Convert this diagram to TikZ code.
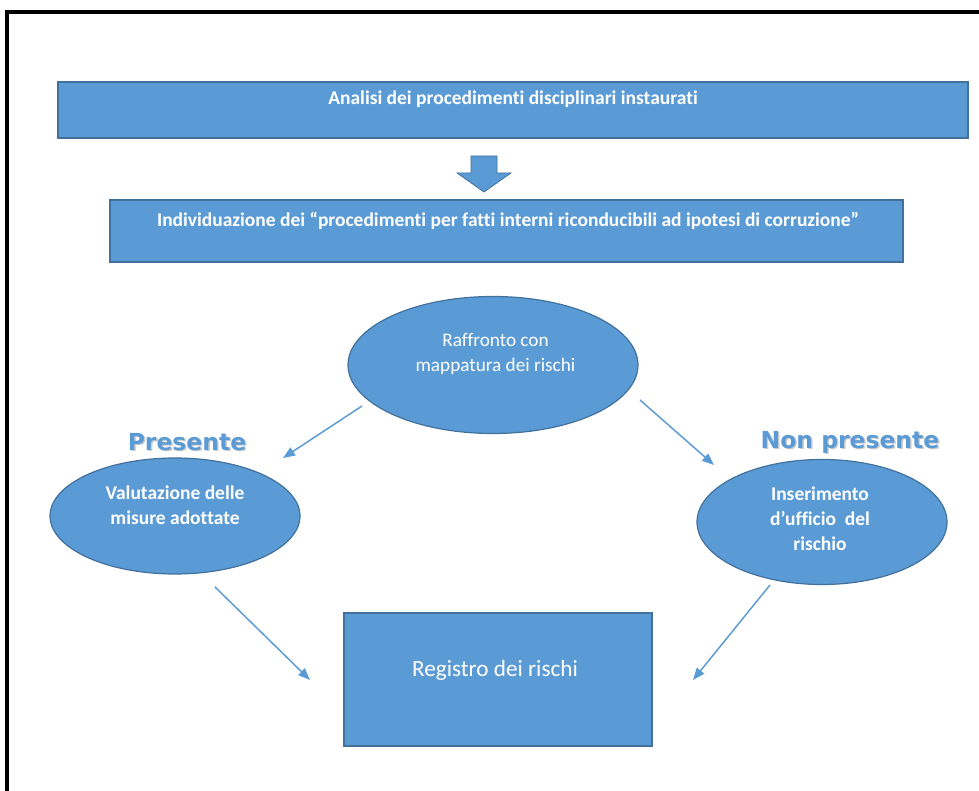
\documentclass[tikz,border=0pt]{standalone}
\usepackage{fontspec}
\setmainfont{Carlito}[Ligatures=NoCommon]
\newfontfamily\lblfont{DejaVu Sans}
\usetikzlibrary{shapes.geometric,arrows.meta}
\definecolor{fillblue}{HTML}{5B9BD5}
\definecolor{edgeblue}{HTML}{41719C}
\begin{document}
\begin{tikzpicture}[x=0.75pt,y=-0.75pt,
  blk/.style={draw=edgeblue, line width=0.9pt, fill=fillblue, inner sep=0pt},
  rbox/.style={blk, rectangle},
  ell/.style={blk, ellipse},
  wtxt/.style={text=white, inner sep=0pt, align=center},
  btxt/.style={wtxt, font=\fontsize{14.6}{17}\selectfont\bfseries},
  etxt/.style={wtxt, font=\fontsize{14.6}{18.6}\selectfont\bfseries},
  lbl/.style={text=fillblue, inner sep=0pt, font=\lblfont\fontsize{17.6}{21}\selectfont\bfseries},
  lblsh/.style={text=gray!40, inner sep=0pt, font=\lblfont\fontsize{17.6}{21}\selectfont\bfseries},
  conn/.style={draw=fillblue, line width=1.1pt, -{Triangle[length=9pt,width=7pt]}}
]
\useasboundingbox (0,0) rectangle (979,791);
\fill[white] (0,0) rectangle (979,791);
\draw[line width=3pt, black] (7,791) -- (7,12) -- (979,12);

% boxes
\node[rbox, minimum width=682.5pt, minimum height=42pt] (b1) at (513,110) {};
\node[btxt] (t1) at (513,99) {Analisi dei procedimenti disciplinari instaurati};

\filldraw[fill=fillblue, draw=edgeblue, line width=0.6pt]
  (471,156) -- (497,156) -- (497,173) -- (511,173) -- (484,192) -- (457,173) -- (471,173) -- cycle;

\node[rbox, minimum width=594.75pt, minimum height=46.5pt] (b2) at (506.5,231) {};
\node[btxt] (t2) at (508,221) {Individuazione dei “procedimenti per fatti interni riconducibili ad ipotesi di corruzione”};

\node[ell, minimum width=217.5pt, minimum height=102.75pt] (top) at (493,365) {};
\node[etxt, font=\fontsize{14.4}{18.6}\selectfont] (ttop) at (495.5,354) {Raffronto con\\mappatura dei rischi};

\node[ell, minimum width=187.5pt, minimum height=87pt] (left) at (175,516) {};
\node[etxt] (tleft) at (175,505) {Valutazione delle\\misure adottate};

\node[ell, minimum width=187.5pt, minimum height=93.75pt] (right) at (822,522) {};
\node[etxt] (tright) at (820,519) {Inserimento\\d’ufficio~~del\\rischio};

\node[rbox, minimum width=231pt, minimum height=99.75pt] (reg) at (498,679.5) {};
\node[wtxt, font=\fontsize{17.4}{20}\selectfont] (treg) at (495,670) {Registro dei rischi};

% labels
\node[lblsh] (lpsh) at (188.5,443.5) {Presente};
\node[lblsh] (lnpsh) at (851.5,443.5) {Non presente};
\node[lbl] (lp) at (187,442) {Presente};
\node[lbl] (lnp) at (850,442) {Non presente};

% connectors
\coordinate (c1s) at (362,406); \coordinate (c1e) at (283,458);
\coordinate (c2s) at (640,400); \coordinate (c2e) at (714,465);
\coordinate (c3s) at (215,587); \coordinate (c3e) at (310,680);
\coordinate (c4s) at (770,585); \coordinate (c4e) at (693,680);
\draw[conn] (c1s) -- (c1e);
\draw[conn] (c2s) -- (c2e);
\draw[conn] (c3s) -- (c3e);
\draw[conn] (c4s) -- (c4e);
\end{tikzpicture}
\end{document}
